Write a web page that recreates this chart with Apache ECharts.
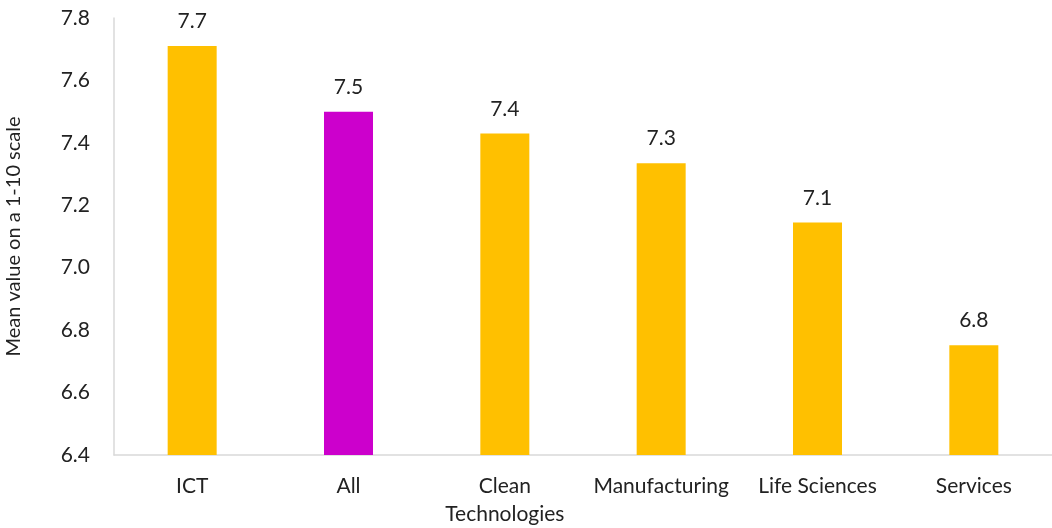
<!DOCTYPE html>
<html><head><meta charset="utf-8">
<script src="https://cdn.jsdelivr.net/npm/echarts@6/dist/echarts.min.js"></script>
<style>html,body{margin:0;padding:0;background:#fff}#c{width:1052px;height:528px}</style>
</head><body><div id="c"></div>
<script>
const categories = ['ICT', 'All', 'Clean\nTechnologies', 'Manufacturing', 'Life Sciences', 'Services'];
const values = [7.71, 7.50, 7.43, 7.335, 7.145, 6.752];
const highlight = ['All'];
const yTicks = [6.4, 6.6, 6.8, 7.0, 7.2, 7.4, 7.6, 7.8];
const yName = 'Mean value on a 1-10 scale';

const FONT = 'Lato, "Open Sans", sans-serif';
const chart = echarts.init(document.getElementById('c'));
chart.setOption({
  animation: false,
  grid: { left: 114, right: 0, top: 18, bottom: 73, containLabel: false, outerBoundsMode: 'none' },
  xAxis: {
    type: 'category', data: categories,
    axisLine: { lineStyle: { color: '#d9d9d9', width: 1.5 } },
    axisTick: { show: false },
    axisLabel: { color: '#222', fontFamily: FONT, fontSize: 21, margin: 17, lineHeight: 28, interval: 0 }
  },
  yAxis: {
    type: 'value', min: yTicks[0], max: yTicks[yTicks.length - 1], interval: 0.2,
    name: yName, nameLocation: 'middle', nameGap: 90, nameRotate: 90,
    nameTextStyle: { color: '#222', fontFamily: FONT, fontSize: 20 },
    axisLine: { show: true, lineStyle: { color: '#d9d9d9', width: 1.5 } },
    axisTick: { show: false },
    splitLine: { show: false },
    axisLabel: { color: '#222', fontFamily: FONT, fontSize: 21, margin: 24, formatter: v => v.toFixed(1) }
  },
  series: [{
    type: 'bar', barWidth: 49,
    data: values.map((v, i) => ({ value: v, itemStyle: { color: highlight.includes(categories[i]) ? '#CC00CC' : '#FFC000' } })),
    label: { show: true, position: 'top', distance: 14, color: '#222', fontFamily: FONT, fontSize: 21, formatter: p => p.value.toFixed(1) }
  }]
});
</script></body></html>
